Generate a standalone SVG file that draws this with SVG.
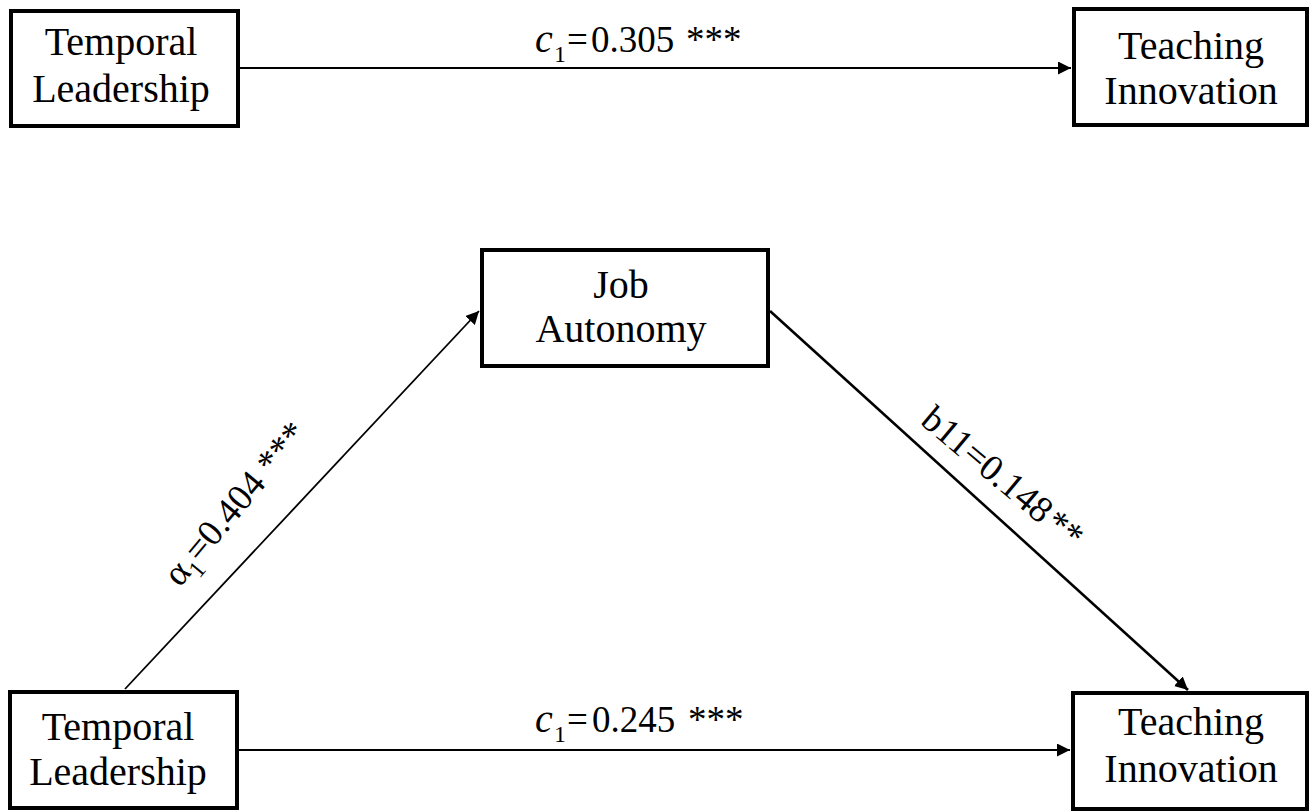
<svg xmlns="http://www.w3.org/2000/svg" width="1316" height="811" viewBox="0 0 1316 811">
<style>
.box{fill:#fff;stroke:#000;stroke-width:4}
.nt{font-size:40px;fill:#000;text-anchor:middle}
.lb{font-size:37px;fill:#000}
.conn{stroke:#000;fill:none}
</style>
<defs>
<marker id="arr" markerUnits="userSpaceOnUse" markerWidth="14" markerHeight="14" refX="13" refY="6.5" orient="auto">
<path d="M0,0 L13,6.5 L0,13 z" fill="#000"/>
</marker>
</defs>
<rect width="1316" height="811" fill="#fff"/>
<g id="connectors">
<line class="conn" x1="240" y1="68" x2="1071" y2="68" stroke-width="2" marker-end="url(#arr)"/>
<line class="conn" x1="239" y1="750" x2="1070" y2="750" stroke-width="2" marker-end="url(#arr)"/>
<line class="conn" x1="125" y1="689" x2="479" y2="311" stroke-width="1.8" marker-end="url(#arr)"/>
<line class="conn" x1="770" y1="311" x2="1188" y2="690" stroke-width="2.6" marker-end="url(#arr)"/>
</g>
<g id="labels" font-family="Liberation Serif, Times New Roman, Tinos, DejaVu Serif, serif">
<text class="lb" y="52"><tspan x="535" font-style="italic" font-size="40">c</tspan><tspan x="554" y="62" font-size="24">1</tspan><tspan x="567" y="52">=</tspan><tspan x="591">0.305</tspan><tspan x="686">***</tspan></text>
<text class="lb" y="732"><tspan x="535" font-style="italic" font-size="40">c</tspan><tspan x="554" y="742" font-size="24">1</tspan><tspan x="567" y="732">=</tspan><tspan x="592">0.245</tspan><tspan x="688">***</tspan></text>
<text class="lb" font-size="38" transform="translate(180,588) rotate(-50)" x="0" y="0">α<tspan font-size="24" dy="9">1</tspan><tspan dy="-9">=0.404 ***</tspan></text>
<text class="lb" font-size="38" transform="translate(919,423) rotate(40)" x="0" y="0">b11=0.148<tspan dx="3">**</tspan></text>
</g>
<g id="n1" font-family="Liberation Serif, Times New Roman, Tinos, DejaVu Serif, serif">
<rect class="box" x="11" y="11" width="227" height="115"/>
<text class="nt" x="121" y="55">Temporal</text>
<text class="nt" x="121" y="102">Leadership</text>
</g>
<g id="n2" font-family="Liberation Serif, Times New Roman, Tinos, DejaVu Serif, serif">
<rect class="box" x="1074" y="9" width="233" height="116"/>
<text class="nt" x="1191" y="59">Teaching</text>
<text class="nt" x="1191" y="104">Innovation</text>
</g>
<g id="n3" font-family="Liberation Serif, Times New Roman, Tinos, DejaVu Serif, serif">
<rect class="box" x="482" y="250" width="286" height="116"/>
<text class="nt" x="621" y="298">Job</text>
<text class="nt" x="621" y="342">Autonomy</text>
</g>
<g id="n4" font-family="Liberation Serif, Times New Roman, Tinos, DejaVu Serif, serif">
<rect class="box" x="10" y="692" width="227" height="116"/>
<text class="nt" x="118" y="740">Temporal</text>
<text class="nt" x="118" y="785">Leadership</text>
</g>
<g id="n5" font-family="Liberation Serif, Times New Roman, Tinos, DejaVu Serif, serif">
<rect class="box" x="1073" y="693" width="234" height="116"/>
<text class="nt" x="1191" y="735">Teaching</text>
<text class="nt" x="1191" y="782">Innovation</text>
</g>
</svg>
